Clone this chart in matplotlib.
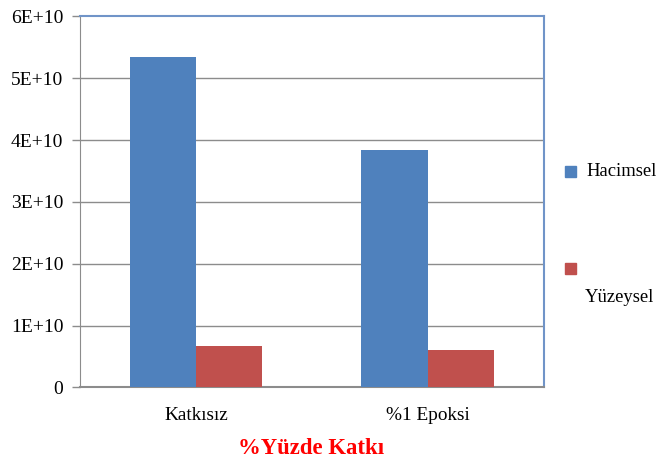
import matplotlib
matplotlib.use("Agg")
import matplotlib.pyplot as plt
import numpy as np

categories = ["Katkısız", "%1 Epoksi"]
hacimsel = [5.345e10, 3.835e10]
yuzeysel = [0.663e10, 0.608e10]
series_names = ["Hacimsel", "Yüzeysel"]
y_ticks = [0, 1e10, 2e10, 3e10, 4e10, 5e10, 6e10]
y_tick_labels = ["0", "1E+10", "2E+10", "3E+10", "4E+10", "5E+10", "6E+10"]
x_title = "%Yüzde Katkı"

blue = "#4f81bd"
red = "#c0504d"
grid_gray = "#8c8c8c"
frame_blue = "#7094c8"

plt.rcParams["font.family"] = ["Liberation Serif", "DejaVu Serif"]

fig = plt.figure(figsize=(6.57, 4.63), dpi=100)
W, H = 657, 463
ax = fig.add_axes([80 / W, 1 - 387.3 / H, (543.5 - 80) / W, (387.3 - 16.5) / H])

x = np.arange(len(categories))
bw = 1 / 3.5
ax.bar(x - bw / 2, hacimsel, width=bw, color=blue, label=series_names[0], zorder=3)
ax.bar(x + bw / 2, yuzeysel, width=bw, color=red, label=series_names[1], zorder=3)

ax.set_xlim(-0.5, len(categories) - 0.5)
ax.set_ylim(0, 6e10)
ax.set_yticks(y_ticks)
ax.set_yticklabels(y_tick_labels, fontsize=14)
ax.set_xticks(x)
ax.set_xticklabels(categories, fontsize=13.9)
ax.tick_params(axis="x", length=0, pad=14)
ax.tick_params(axis="y", length=6, width=1, color=grid_gray, pad=6)

for v in y_ticks[1:-1]:
    ax.axhline(v, color=grid_gray, lw=1, zorder=1)

ax.spines["left"].set_color(grid_gray)
ax.spines["bottom"].set_color(grid_gray)
ax.spines["bottom"].set_linewidth(1.5)
ax.spines["top"].set_color(frame_blue)
ax.spines["top"].set_linewidth(1.5)
ax.spines["right"].set_color(frame_blue)
ax.spines["right"].set_linewidth(1.5)

fig.text(311 / W, 1 - 448 / H, x_title, color="#ff0000", fontsize=16.4,
         fontweight="bold", ha="center", va="center")

# legend, drawn in figure coordinates
fig.patches.append(plt.Rectangle((565 / W, 1 - 177 / H), 11 / W, 11 / H,
                                 transform=fig.transFigure, color=blue))
fig.text(586 / W, 1 - 172 / H, series_names[0], fontsize=13.4, va="center", ha="left")
fig.patches.append(plt.Rectangle((565 / W, 1 - 274 / H), 11 / W, 11 / H,
                                 transform=fig.transFigure, color=red))
fig.text(585 / W, 1 - 297 / H, series_names[1], fontsize=13.4, va="center", ha="left")

fig.savefig("out.png", dpi=100)
